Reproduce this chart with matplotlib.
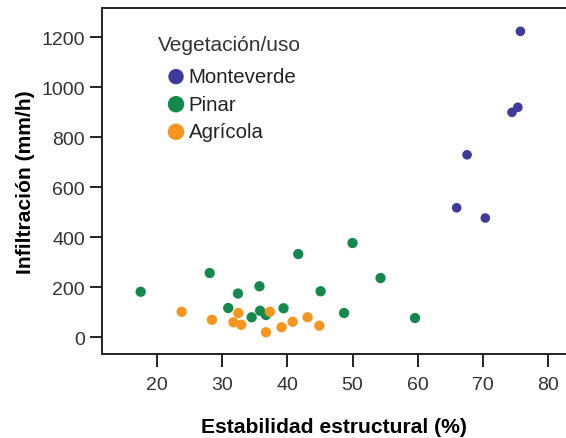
import numpy as np
import matplotlib
matplotlib.use("Agg")
import matplotlib.pyplot as plt

plt.rcParams['font.family'] = ['Liberation Sans', 'DejaVu Sans']

# Estabilidad estructural (%) vs Infiltración (mm/h), by vegetation/use
mont_x = [75.8, 75.4, 74.5, 67.6, 66.0, 70.4]
mont_y = [1223, 919, 899, 729, 517, 476]

pinar_x = [17.45, 28.05, 32.4, 35.7, 41.66, 50.0, 45.1, 54.3,
           30.9, 34.5, 35.8, 36.7, 39.4, 48.7, 59.6]
pinar_y = [181, 256, 174, 203, 332, 376, 183, 236,
           116, 79, 105, 88, 115, 96, 76]

agri_x = [23.75, 28.4, 32.45, 31.7, 32.9, 37.3, 36.7, 39.1, 40.8, 43.1, 44.9]
agri_y = [101, 69, 96, 59, 49, 101, 19, 39, 61, 79, 45]

fig = plt.figure(figsize=(5.66, 4.39), dpi=100)
ax = fig.add_axes([0.1797, 0.1913, 0.8203, 0.7875])

ax.scatter(mont_x, mont_y, s=48, color='#3d3b9b', edgecolor='none', label='Monteverde', zorder=3)
ax.scatter(pinar_x, pinar_y, s=55, color='#13894e', edgecolor='none', label='Pinar', zorder=3)
ax.scatter(agri_x, agri_y, s=55, color='#f7961f', edgecolor='none', label='Agrícola', zorder=3)

ax.set_xlim(11.46, 82.8)
ax.set_ylim(-68, 1315)
ax.set_xticks(np.arange(20, 81, 10))
ax.set_yticks(np.arange(0, 1201, 200))

for s in ['left', 'bottom', 'top']:
    ax.spines[s].set_linewidth(1.4)
    ax.spines[s].set_color('#222222')
ax.spines['right'].set_visible(False)

ax.tick_params(axis='both', direction='out', length=9, width=1.4, color='#222222',
               labelsize=14, labelcolor='#333333', pad=3)
ax.tick_params(axis='x', pad=7)

ax.set_xlabel('Estabilidad estructural (%)', fontsize=15.2, fontweight='bold', labelpad=17)
ax.set_ylabel('Infiltración (mm/h)', fontsize=15.2, fontweight='bold', labelpad=5)

# legend title drawn separately so the gap under it matches
ax.text(0.1213, 0.8967, 'Vegetación/uso', transform=ax.transAxes, fontsize=15,
        color='#333333', ha='left', va='center')
ax.legend(loc='center left', bbox_to_anchor=(0.104, 0.723), frameon=False,
          fontsize=14.7, markerscale=1.6, handlelength=1.75, handletextpad=-0.25,
          labelspacing=0.42, borderaxespad=0.0, labelcolor='#222222')

fig.savefig('out.png', dpi=100)
